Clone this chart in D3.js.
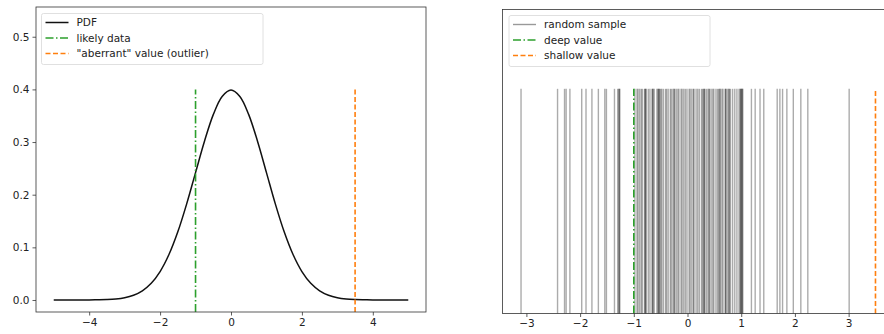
<!DOCTYPE html>
<html>
<head>
<meta charset="utf-8">
<script src="https://cdn.jsdelivr.net/npm/d3@7"></script>
<style>
  body { margin: 0; background: #fff; }
  svg text { font-family: "DejaVu Sans", sans-serif; fill: #222; }
</style>
</head>
<body>
<div id="chart"></div>
<script>
// left panel: normal pdf, read at 0.25 steps
const pdfX = [-5,-4.75,-4.5,-4.25,-4,-3.75,-3.5,-3.25,-3,-2.75,-2.5,-2.25,-2,-1.75,-1.5,-1.25,-1,-0.75,-0.5,-0.25,
  0,0.25,0.5,0.75,1,1.25,1.5,1.75,2,2.25,2.5,2.75,3,3.25,3.5,3.75,4,4.25,4.5,4.75,5];
const pdfY = [0,0,0,0,0.0001,0.0004,0.0009,0.002,0.0044,0.0091,0.0175,0.0317,0.054,0.0863,0.1295,0.1826,0.242,0.3011,0.3521,0.3867,
  0.3989,0.3867,0.3521,0.3011,0.242,0.1826,0.1295,0.0863,0.054,0.0317,0.0175,0.0091,0.0044,0.002,0.0009,0.0004,0.0001,0,0,0,0];
const likelyValue = -1;
const outlierValue = 3.5;
const markTop = 0.4;
const leftXTicks = [-4, -2, 0, 2, 4];
const leftYTicks = [0, 0.1, 0.2, 0.3, 0.4, 0.5];
const leftLegend = ["PDF", "likely data", "\"aberrant\" value (outlier)"];

// right panel: sample values
const sample = [-3.10, -2.42, -2.29, -2.26, -2.19, -1.97, -1.89, -1.78, -1.66, -1.54, -1.51, -1.36, -1.30, -1.28, -1.27, -1.26,
  -0.98, -0.94, -0.92, -0.89, -0.86, -0.84, -0.80, -0.79, -0.78, -0.77, -0.73, -0.70, -0.66, -0.65, -0.64, -0.62, -0.57, -0.55, -0.54, -0.53,
  -0.52, -0.50, -0.48, -0.45, -0.41, -0.39, -0.36, -0.32, -0.30, -0.27, -0.25, -0.24, -0.21, -0.18, -0.16, -0.12, -0.10, -0.07,
  -0.04, -0.01, 0.03, 0.05, 0.08, 0.11, 0.12, 0.16, 0.19, 0.22, 0.26, 0.28, 0.30, 0.31, 0.32, 0.35, 0.38, 0.40, 0.41, 0.44,
  0.47, 0.49, 0.53, 0.56, 0.58, 0.60, 0.61, 0.64, 0.66, 0.70, 0.71, 0.72, 0.75, 0.77, 0.78, 0.80, 0.84, 0.88, 0.92, 0.96, 0.98,
  0.99, 1.00, 1.01, 1.02, 1.03, 1.19, 1.26, 1.35, 1.42, 1.67, 1.72, 1.77, 1.85, 1.97, 2.11, 2.24, 3.01];
const deepValue = -1;
const shallowValue = 3.5;
const rightXTicks = [-3, -2, -1, 0, 1, 2, 3];
const rightLegend = ["random sample", "deep value", "shallow value"];

const green = "#2ca02c", orange = "#ff7f0e";
const dashDot = "8,2.5,1.5,2.5", dashed = "5,2.5";
const fontSize = 10.5;

const svg = d3.select("#chart").append("svg")
  .attr("width", 884).attr("height", 334);

function fmtMinus(v, d) {
  return d3.format(d)(v).replace("-", "\u2212");
}

// ---------- left panel ----------
const xL = d3.scaleLinear().domain([-5.5, 5.5]).range([36, 426]);
const yL = d3.scaleLinear().domain([-0.0228, 0.5565]).range([312, 7]);

const gL = svg.append("g");

gL.append("path")
  .datum(d3.zip(pdfX, pdfY))
  .attr("fill", "none")
  .attr("stroke", "#111")
  .attr("stroke-width", 1.5)
  .attr("d", d3.line().x(d => xL(d[0])).y(d => yL(d[1])).curve(d3.curveCatmullRom));

gL.append("line")
  .attr("x1", xL(likelyValue)).attr("x2", xL(likelyValue))
  .attr("y1", yL.range()[0]).attr("y2", yL(markTop))
  .attr("stroke", green).attr("stroke-width", 1.6).attr("stroke-dasharray", dashDot);

gL.append("line")
  .attr("x1", xL(outlierValue)).attr("x2", xL(outlierValue))
  .attr("y1", yL.range()[0]).attr("y2", yL(markTop))
  .attr("stroke", orange).attr("stroke-width", 1.6).attr("stroke-dasharray", dashed);

gL.append("rect")
  .attr("x", 36).attr("y", 7).attr("width", 390).attr("height", 305)
  .attr("fill", "none").attr("stroke", "#333").attr("stroke-width", 0.8);

const axL = gL.append("g").attr("transform", "translate(0,312)")
  .call(d3.axisBottom(xL).tickValues(leftXTicks).tickSize(3.5).tickPadding(3).tickFormat(d => fmtMinus(d, "d")));
const ayL = gL.append("g").attr("transform", "translate(36,0)")
  .call(d3.axisLeft(yL).tickValues(leftYTicks).tickSize(3.5).tickPadding(3).tickFormat(d3.format(".1f")));
[axL, ayL].forEach(a => {
  a.select(".domain").remove();
  a.selectAll("line").attr("stroke", "#333").attr("stroke-width", 0.8);
  a.selectAll("text").attr("font-size", fontSize).attr("fill", "#222");
});

// legend
function legend(g, x, y, w, h, items, styles) {
  g.append("rect").attr("x", x).attr("y", y).attr("width", w).attr("height", h)
    .attr("rx", 2).attr("fill", "#fff").attr("fill-opacity", 0.8)
    .attr("stroke", "#d8d8d8").attr("stroke-width", 0.8);
  items.forEach((t, i) => {
    const cy = y + 9 + i * 15.5;
    const s = styles[i];
    g.append("line").attr("x1", x + 4).attr("x2", x + 27).attr("y1", cy).attr("y2", cy)
      .attr("stroke", s.c).attr("stroke-width", s.w).attr("stroke-dasharray", s.d || null)
      .attr("stroke-opacity", s.o || 1);
    g.append("text").attr("x", x + 35).attr("y", cy).attr("dy", "0.35em")
      .attr("font-size", fontSize).text(t);
  });
}

legend(gL, 41.5, 13.5, 221.5, 51, leftLegend, [
  {c: "#111", w: 1.5},
  {c: green, w: 1.6, d: dashDot},
  {c: orange, w: 1.6, d: dashed}
]);

// ---------- right panel ----------
const xR = d3.scaleLinear().domain([-3.445, 3.83]).range([502.5, 893.2]);
const yR = d3.scaleLinear().domain([0, 1.353]).range([313.5, 9.5]);

const gR = svg.append("g");

gR.selectAll("line.rug")
  .data(sample)
  .join("line")
  .attr("class", "rug")
  .attr("x1", d => xR(d)).attr("x2", d => xR(d))
  .attr("y1", yR(0)).attr("y2", yR(1))
  .attr("stroke", "#000").attr("stroke-opacity", 0.33).attr("stroke-width", 1.4);

gR.append("line")
  .attr("x1", xR(deepValue)).attr("x2", xR(deepValue))
  .attr("y1", yR(0)).attr("y2", yR(1))
  .attr("stroke", green).attr("stroke-width", 1.6).attr("stroke-dasharray", dashDot);

gR.append("line")
  .attr("x1", xR(shallowValue)).attr("x2", xR(shallowValue))
  .attr("y1", yR(0)).attr("y2", yR(1))
  .attr("stroke", orange).attr("stroke-width", 1.6).attr("stroke-dasharray", dashed);

gR.append("rect")
  .attr("x", 502.5).attr("y", 9.5).attr("width", 390.7).attr("height", 304)
  .attr("fill", "none").attr("stroke", "#333").attr("stroke-width", 0.8);

const axR = gR.append("g").attr("transform", "translate(0,313.5)")
  .call(d3.axisBottom(xR).tickValues(rightXTicks).tickSize(3.5).tickPadding(3).tickFormat(d => fmtMinus(d, "d")));
axR.select(".domain").remove();
axR.selectAll("line").attr("stroke", "#333").attr("stroke-width", 0.8);
axR.selectAll("text").attr("font-size", fontSize).attr("fill", "#222");

legend(gR, 509, 15.5, 201, 51, rightLegend, [
  {c: "#000", w: 1.4, o: 0.4},
  {c: green, w: 1.6, d: dashDot},
  {c: orange, w: 1.6, d: dashed}
]);
</script>
</body>
</html>
